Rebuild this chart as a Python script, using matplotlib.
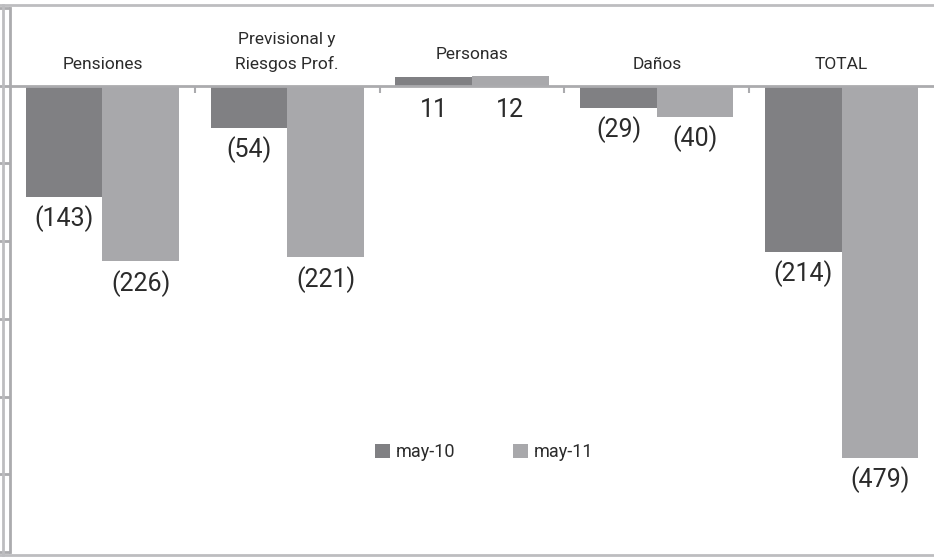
import matplotlib
matplotlib.use("Agg")
import matplotlib.pyplot as plt
from matplotlib.lines import Line2D
import numpy as np

categories = ["Pensiones", "Previsional y\nRiesgos Prof.", "Personas", "Daños", "TOTAL"]
series_names = ["may-10", "may-11"]
may10 = [-143, -54, 11, -29, -214]
may11 = [-226, -221, 12, -40, -479]

colors = ["#808083", "#a8a8ab"]
axis_gray = "#ababae"
text_color = "#2b2b2b"

plt.rcParams["font.family"] = ["Roboto", "DejaVu Sans"]

fig = plt.figure(figsize=(9.34, 5.57), dpi=100)
W, H = 934, 557
ax = fig.add_axes([10 / W, (557 - 552) / H, (934 - 10) / W, (552 - 8) / H])

x = np.arange(len(categories))
bw = 0.415
b1 = ax.bar(x - bw / 2, may10, bw, color=colors[0], label=series_names[0], zorder=1)
b2 = ax.bar(x + bw / 2, may11, bw, color=colors[1], label=series_names[1], zorder=1)

ax.set_xlim(-0.5, len(categories) - 0.5)
ax.set_ylim(-600, 100)

# axes styling
for s in ["top", "right"]:
    ax.spines[s].set_visible(False)
ax.spines["left"].set_color(axis_gray)
ax.spines["left"].set_linewidth(2)
ax.spines["bottom"].set_position(("data", 0))
ax.spines["bottom"].set_color(axis_gray)
ax.spines["bottom"].set_linewidth(2)
ax.spines["bottom"].set_zorder(3)

ax.set_yticks(np.arange(-600, 101, 100))
ax.set_yticklabels([])
ax.tick_params(axis="y", direction="out", length=8, width=2, color=axis_gray)
ax.set_xticks(np.arange(len(categories) - 1) + 0.5)
ax.set_xticklabels([])
ax.tick_params(axis="x", direction="out", length=5, width=1.5, color=axis_gray)


def fmt(v):
    return f"({abs(v)})" if v < 0 else f"{v}"


# value labels
for bars, vals in [(b1, may10), (b2, may11)]:
    for bar, v in zip(bars, vals):
        cx = bar.get_x() + bar.get_width() / 2
        anchor = v if v < 0 else 0
        off = -6 if v < 0 else -9
        ax.annotate(fmt(v), (cx, anchor), xytext=(0, off), textcoords="offset points",
                    ha="center", va="top", fontsize=18, color=text_color)

# category labels above the zero line
for i, (c, a, b) in enumerate(zip(categories, may10, may11)):
    top = max(0, a, b)
    ax.annotate(c, (i, top), xytext=(0, 10), textcoords="offset points",
                ha="center", va="bottom", fontsize=12.5, color=text_color,
                linespacing=1.7)

leg = ax.legend(loc="center", ncol=2, frameon=False, fontsize=13,
                handlelength=0.85, handleheight=0.85,
                columnspacing=3.2, handletextpad=0.3, labelcolor=text_color)
leg.set_bbox_to_anchor((484 / W, 1 - 452 / H), transform=fig.transFigure)

# outer frame
frame_kw = dict(color="#bdbdc0", lw=2, transform=fig.transFigure)
fig.add_artist(Line2D([3 / W, 3 / W], [1 - 5 / H, 1 - 555 / H], **frame_kw))
fig.add_artist(Line2D([0, 1], [1 - 5 / H, 1 - 5 / H], **frame_kw))
fig.add_artist(Line2D([0, 1], [1 - 555 / H, 1 - 555 / H], **frame_kw))

fig.savefig("out.png", dpi=100)
